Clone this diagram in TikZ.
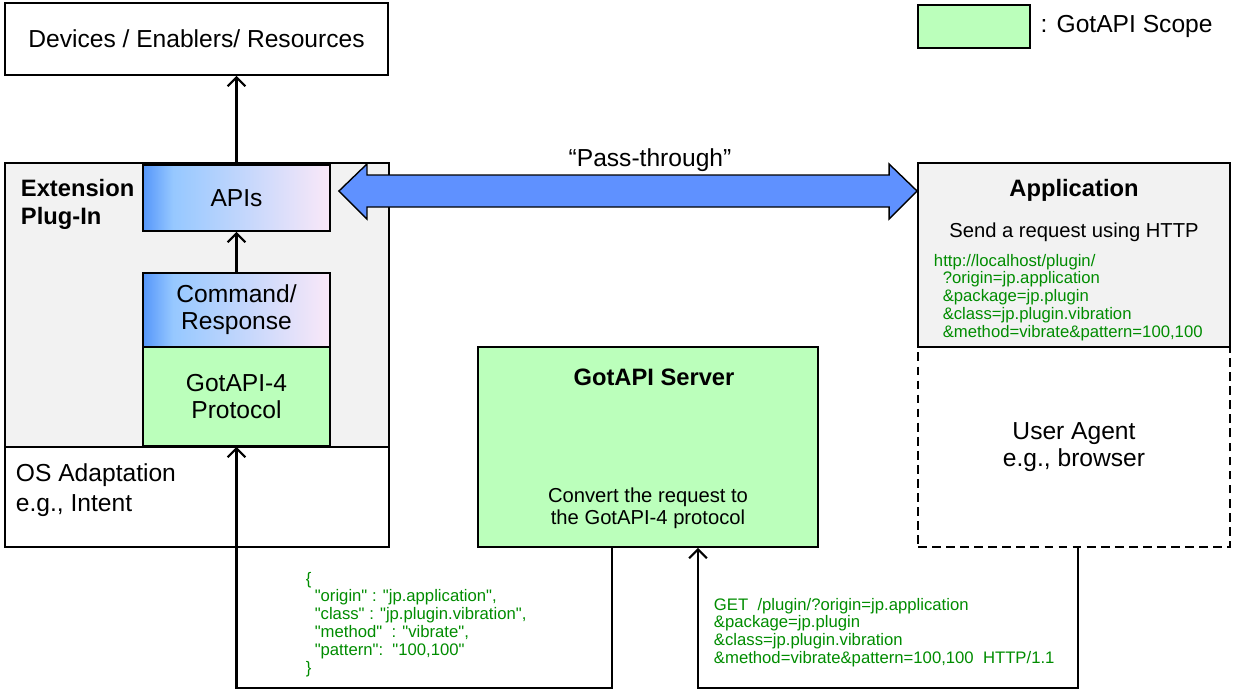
\documentclass[tikz,border=0pt]{standalone}
\usepackage{fontspec}
\setmainfont{Liberation Sans}
% Code messages keep their straight double quotes.
\newfontfamily\codefont{Liberation Sans}[Ligatures=TeXOff]
\usetikzlibrary{arrows.meta, positioning, calc}

\definecolor{scopegreen}{RGB}{187,255,187}
\definecolor{panelgray}{RGB}{242,242,242}
\definecolor{codegreen}{RGB}{0,140,0}
\definecolor{gradblue}{RGB}{85,150,250}
\definecolor{gradsky}{RGB}{150,200,255}
\definecolor{gradpink}{RGB}{250,232,248}
\definecolor{arrowblue}{RGB}{95,145,255}

\pgfdeclarehorizontalshading{apishade}{100bp}{color(0bp)=(gradblue); color(25bp)=(gradblue); color(33bp)=(gradsky); color(75bp)=(gradpink); color(100bp)=(gradpink)}

\tikzset{
    box/.style = {draw, line width = 1.1pt, inner sep = 0pt, align = center,
        font = \fontsize{14}{15.3}\selectfont},
    scope box/.style = {box, fill = scopegreen},
    layer box/.style = {box, shade, shading = apishade},
    link/.style = {->, line width = 1.2pt},
    label text/.style = {inner sep = 0pt, align = left, font = \fontsize{14}{17}\selectfont},
    label bold/.style = {inner sep = 0pt, align = left, font = \fontsize{13.5}{16}\selectfont\bfseries},
    label small/.style = {inner sep = 0pt, align = center, font = \fontsize{11.5}{12.5}\selectfont},
    code text/.style = {inner sep = 0pt, align = left, text = codegreen,
        font = \codefont\fontsize{9.5}{10.2}\selectfont}
}

\begin{document}
\begin{tikzpicture}[%
        x = 0.02cm, y = -0.02cm,
        line width = 1.1pt,
        > = {Straight Barb[length=5pt, width=10pt]}
    ]
        \useasboundingbox (0,0) rectangle (1243,690);

        % Legend for the GotAPI scope.
        \node[scope box, minimum width = 2.24cm, minimum height = 0.86cm] (legend) at (974,26.5) {};
        \node[label text, right = 5pt of legend] (legendtext) {: GotAPI Scope};

        % Devices on top.
        \node[box, minimum width = 7.66cm, minimum height = 1.44cm] (dev) at (196.5,39)
            {Devices / Enablers/ Resources};

        % Extension plug-in and its layers.
        \node[box, fill = panelgray, minimum width = 7.68cm, minimum height = 5.68cm] (ext) at (197,305) {};
        \node[label bold, anchor = west] (extlbl) at (20,204) {Extension\\Plug-In};
        \node[layer box, minimum width = 3.74cm, minimum height = 1.32cm] (apis) at (236.5,198) {APIs};
        \node[layer box, minimum width = 3.74cm, minimum height = 1.48cm] (cmd) at (236.5,310) {Command/\\Response};
        \node[scope box, minimum width = 3.74cm, minimum height = 1.98cm] (proto) at (236.5,396.5) {GotAPI-4\\Protocol};
        \node[box, minimum width = 7.68cm, minimum height = 2cm] (os) at (197,497) {};
        \node[label text, anchor = west] (oslbl) at (15,490) {OS Adaptation\\e.g., Intent};

        % User agent and application.
        \node[box, dashed, dash pattern = on 5pt off 3pt, minimum width = 6.24cm, minimum height = 4cm] (ua) at (1074,447)
            {User Agent\\e.g., browser};
        \node[box, fill = panelgray, minimum width = 6.24cm, minimum height = 3.68cm] (app) at (1074,255) {};
        \node[label bold] (applbl) at (1074,190) {Application};
        \node[label small] (sendlbl) at (1074,232) {Send a request using HTTP};
        \node[code text, anchor = north west] (url) at (933,253) {http://localhost/plugin/\\
            \hspace*{5pt}?origin=jp.application\\
            \hspace*{5pt}\&package=jp.plugin\\
            \hspace*{5pt}\&class=jp.plugin.vibration\\
            \hspace*{5pt}\&method=vibrate\&pattern=100,100};

        % GotAPI server.
        \node[scope box, minimum width = 6.8cm, minimum height = 4cm] (srv) at (648,447) {};
        \node[label bold] (srvlbl) at (654,377) {GotAPI Server};
        \node[label small] (convlbl) at (648,508) {Convert the request to\\the GotAPI-4 protocol};

        % The pass-through arrow.
        \node[label text] (passlbl) at (650,160) {``Pass-through''};
        \coordinate (pl) at ($(apis.east)+(8,-7)$);
        \coordinate (pr) at (app.west |- pl);
        \draw[line width = 0.8pt, fill = arrowblue]
            (pl) -- ++(28,-27) -- ++(0,11) -- ($(pr)+(-28,-16)$) -- ++(0,-11) -- (pr)
            -- ++(-28,28) -- ++(0,-12) -- ($(pl)+(28,16)$) -- ++(0,12) -- cycle;

        % Connectors.
        \draw[link] (apis.north) to (apis.north |- dev.south);
        \draw[link] (cmd.north) to (apis.south);
        \draw[link] (ua.south) ++(4,0) -- ++(0,140) -| ([xshift=1cm]srv.south);
        \draw[link] (srv.south) ++(-36,0) -- ++(0,140) -| (proto.south);

        % Messages on the connectors.
        \node[code text, anchor = north west] (json) at (305,571) {\{\\
            \hspace*{5pt}"origin" : "jp.application",\\
            \hspace*{5pt}"class" : "jp.plugin.vibration",\\
            \hspace*{5pt}"method"\ \ : "vibrate",\\
            \hspace*{5pt}"pattern":\ \ "100,100"\\
            \}};
        \node[code text, anchor = north west] (getreq) at (713,597) {GET\ \ /plugin/?origin=jp.application\\
            \&package=jp.plugin\\
            \&class=jp.plugin.vibration\\
            \&method=vibrate\&pattern=100,100\ \ HTTP/1.1};
    \end{tikzpicture}
\end{document}
